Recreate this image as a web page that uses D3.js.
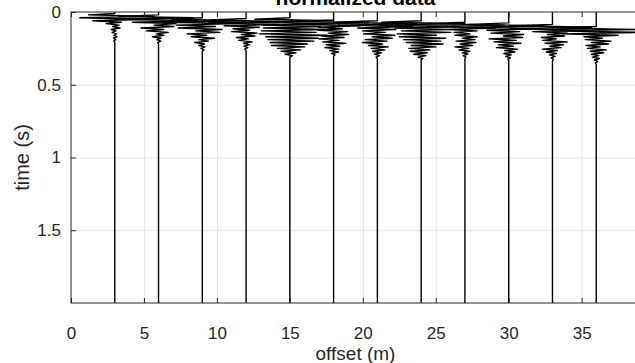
<!DOCTYPE html>
<html>
<head>
<meta charset="utf-8">
<script src="https://cdn.jsdelivr.net/npm/d3@7"></script>
<style>
  body { margin: 0; background: #fff; }
  svg { display: block; font-family: "Liberation Sans", Arial, Helvetica, sans-serif; }
  .tick text { fill: #262626; font-size: 17px; }
</style>
</head>
<body>
<div id="chart"></div>
<script>
// receiver offsets (m)
const offsets = [3, 6, 9, 12, 15, 18, 21, 24, 27, 30, 33, 36];
// time of first sample for each trace (s)
const traceStart = [0.01, 0.02, 0.04, 0.045, 0.04, 0.055, 0.06, 0.06, 0.07, 0.075, 0.085, 0.1];
// sample interval (s) and record length (s)
const dt = 0.01;
const recordLength = 2;
// normalized trace samples
const traceSamples = [
  [0, -0.6, 0.9, -0.8, 0.7, -0.5, 0.15, -0.2, 0.1, -0.05, 0.12, -0.08, 0.03, -0.06, 0.04, -0.02, 0.05, -0.03, 0.02, -0.02, 0],
  [0, -0.9, 0.8, -1.0, 0.9, -0.6, 0.4, -0.1, 0.35, -0.4, 0.12, -0.28, 0.22, -0.05, 0.12, -0.14, 0.06, -0.04, 0.05, -0.02, 0],
  [0, -0.7, 1.0, -0.9, 0.8, -0.6, 0.3, -0.55, 0.45, -0.15, 0.4, -0.35, 0.1, -0.25, 0.28, -0.08, 0.14, -0.17, 0.05, -0.08, 0.06, -0.03, 0.04, 0],
  [0, -0.8, 0.9, -0.85, 0.75, -0.5, 0.3, -0.3, 0.08, -0.33, 0.25, -0.1, 0.2, -0.22, 0.05, -0.17, 0.14, -0.06, 0.08, -0.05, 0.04, -0.03, 0],
  [0, -0.8, 1.0, -0.9, 0.85, -0.6, 0.7, -0.6, 0.8, -0.65, 0.6, -0.7, 0.85, -0.55, 0.65, -0.5, 0.55, -0.45, 0.4, -0.42, 0.34, -0.28, 0.25, -0.2, 0.14, -0.11, 0.06, 0],
  [0, -0.9, 0.8, -0.85, 0.6, -0.35, 0.2, -0.36, 0.32, -0.12, 0.34, -0.28, 0.24, -0.34, 0.12, -0.25, 0.28, -0.17, 0.14, -0.2, 0.12, -0.09, 0.11, -0.05, 0.03, 0],
  [0, -1.0, 0.9, -0.9, 0.8, -0.45, 0.42, -0.34, 0.18, -0.32, 0.4, -0.12, 0.34, -0.28, 0.22, -0.34, 0.12, -0.2, 0.25, -0.14, 0.17, -0.11, 0.09, -0.07, 0.05, -0.03, 0],
  [0, -0.9, 1.0, -0.95, 0.85, -0.6, 0.6, -0.45, 0.68, -0.55, 0.35, -0.5, 0.56, -0.4, 0.45, -0.34, 0.5, -0.23, 0.34, -0.28, 0.2, -0.25, 0.14, -0.17, 0.11, -0.07, 0.04, 0],
  [0, -0.8, 0.9, -0.85, 0.7, -0.4, 0.28, -0.25, 0.12, -0.23, 0.28, -0.06, 0.23, -0.2, 0.25, -0.11, 0.17, -0.23, 0.09, -0.14, 0.11, -0.06, 0.07, -0.04, 0.02, 0],
  [0, -0.9, 0.8, -0.9, 0.75, -0.5, 0.25, -0.4, 0.34, -0.12, 0.32, -0.45, 0.17, -0.34, 0.28, -0.23, 0.11, -0.28, 0.2, -0.09, 0.14, -0.11, 0.06, -0.07, 0.04, -0.02, 0],
  [0, -0.85, 0.9, -0.95, 0.8, -0.45, 0.34, -0.12, 0.28, -0.25, 0.09, -0.23, 0.34, -0.17, 0.25, -0.06, 0.2, -0.23, 0.11, -0.14, 0.09, -0.07, 0.06, -0.03, 0.02, 0],
  [0, -0.9, 1.0, -1.0, 1.0, -0.8, 0.5, -0.28, 0.14, -0.25, 0.34, -0.11, 0.28, -0.23, 0.09, -0.2, 0.23, -0.14, 0.17, -0.11, 0.06, -0.09, 0.07, -0.04, 0.03, -0.02, 0]
];
const xTicks = [0, 5, 10, 15, 20, 25, 30, 35];
const yTicks = [0, 0.5, 1, 1.5];
const xDomain = [0, 39];
const yDomain = [0, 2];

const [width, height] = [635, 363];
const margin = { top: 12, right: -5, bottom: 60, left: 71 };
const gain = 3; // offset metres per unit of normalized amplitude
const ink = '#262626';

const svg = d3.select('#chart').append('svg')
  .attr('width', width).attr('height', height);

const x = d3.scaleLinear().domain(xDomain).range([margin.left, width - margin.right]);
const y = d3.scaleLinear().domain(yDomain).range([margin.top, height - margin.bottom]);

svg.append('defs').append('clipPath').attr('id', 'plot-clip')
  .append('rect')
  .attr('x', x(xDomain[0])).attr('y', y(yDomain[0]))
  .attr('width', x(xDomain[1]) - x(xDomain[0]))
  .attr('height', y(yDomain[1]) - y(yDomain[0]));

// grid
const grid = svg.append('g').attr('class', 'grid').attr('stroke', '#e3e3e3').attr('stroke-width', 1);
grid.selectAll('line.gx').data(xTicks.slice(1)).join('line').attr('class', 'gx')
  .attr('x1', d => x(d) + 0.5).attr('x2', d => x(d) + 0.5)
  .attr('y1', y(yDomain[0])).attr('y2', y(yDomain[1]));
grid.selectAll('line.gy').data(yTicks.slice(1)).join('line').attr('class', 'gy')
  .attr('y1', d => y(d) + 0.5).attr('y2', d => y(d) + 0.5)
  .attr('x1', x(xDomain[0])).attr('x2', x(xDomain[1]));

// traces
const traces = svg.append('g').attr('class', 'traces').attr('clip-path', 'url(#plot-clip)');
offsets.forEach((off, i) => {
  const pts = [[0, 0]];
  traceSamples[i].forEach((a, k) => pts.push([traceStart[i] + k * dt, a]));
  pts.push([recordLength, 0]);
  const line = d3.line()
    .x(d => x(off + gain * d[1]))
    .y(d => y(d[0]));
  traces.append('path')
    .attr('d', line(pts))
    .attr('fill', 'none')
    .attr('stroke', '#000')
    .attr('stroke-width', 1.4)
    .attr('stroke-linejoin', 'round');
});

// axes
const xAxis = svg.append('g')
  .attr('transform', `translate(0, ${y(yDomain[1])})`)
  .call(d3.axisBottom(x).tickValues(xTicks).tickSize(-5).tickPadding(23.5).tickFormat(d3.format('d')));
const xAxisTop = svg.append('g')
  .attr('transform', `translate(0, ${y(yDomain[0])})`)
  .call(d3.axisTop(x).tickValues(xTicks).tickSize(-5).tickFormat(''));
const yAxis = svg.append('g')
  .attr('transform', `translate(${x(xDomain[0])}, 0)`)
  .call(d3.axisLeft(y).tickValues(yTicks).tickSize(-5).tickPadding(10).tickFormat(d => d));

[xAxis, xAxisTop, yAxis].forEach(a => {
  a.select('.domain').remove();
  a.selectAll('.tick line').attr('stroke', ink);
});

// box
svg.append('rect')
  .attr('x', x(xDomain[0])).attr('y', y(yDomain[0]))
  .attr('width', x(xDomain[1]) - x(xDomain[0]))
  .attr('height', y(yDomain[1]) - y(yDomain[0]))
  .attr('fill', 'none').attr('stroke', ink).attr('stroke-width', 1);

// labels
const midX = (x(xDomain[0]) + x(xDomain[1])) / 2;
svg.append('text')
  .attr('x', midX).attr('y', 359.5)
  .attr('text-anchor', 'middle').attr('fill', ink).attr('font-size', 19)
  .text('offset (m)');
svg.append('text')
  .attr('transform', `translate(29, ${(y(yDomain[0]) + y(yDomain[1])) / 2}) rotate(-90)`)
  .attr('text-anchor', 'middle').attr('fill', ink).attr('font-size', 20)
  .text('time (s)');
svg.append('text')
  .attr('x', midX).attr('y', 5)
  .attr('text-anchor', 'middle').attr('fill', '#000').attr('font-size', 21).attr('font-weight', 'bold')
  .text('normalized data');
</script>
</body>
</html>
